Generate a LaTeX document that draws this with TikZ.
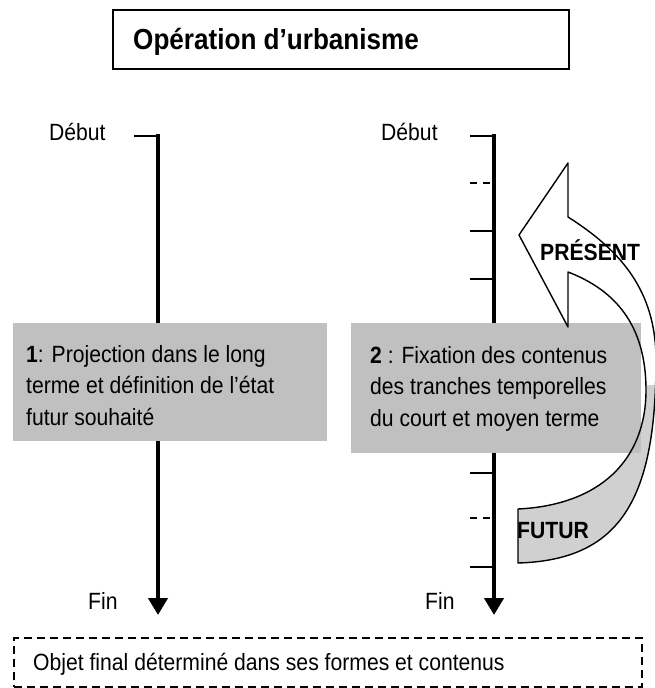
\documentclass[tikz,border=0pt]{standalone}
\usepackage{fontspec}
\setmainfont[FakeStretch=0.9]{Liberation Sans}
\usetikzlibrary{arrows.meta}
\definecolor{boxgray}{HTML}{C0C0C0}
\definecolor{tailgray}{HTML}{D0D0D0}
\begin{document}
\begin{tikzpicture}[x=1pt,y=-1pt,
  txt/.style={font=\fontsize{23.5}{31.5}\selectfont, inner sep=0pt},
  boldtxt/.style={font=\bfseries\fontsize{23.5}{31.5}\selectfont, inner sep=0pt},
  graybox/.style={fill=boxgray, draw=none, inner sep=0pt, anchor=north west},
  timeline/.style={line width=4.8pt, -{Triangle[length=17pt,width=19pt]}},
  tickline/.style={line width=1.6pt},
  dashtick/.style={line width=1.6pt, dash pattern=on 7pt off 6pt},
  outline/.style={draw=black, line width=1.4pt, line join=round}]
\useasboundingbox (0,0) rectangle (655,688);

% title
\node[draw, line width=1.8pt, minimum width=456pt, minimum height=59pt, anchor=north west, inner sep=0pt] (titlebox) at (112,9) {};
\node[anchor=base west, font=\bfseries\fontsize{29}{34}\selectfont, inner sep=0pt] (title) at (133,49) {Opération d’urbanisme};

% left time line
\coordinate (Ltick) at (134,136);
\coordinate (Ltop) at (158,134);
\coordinate (Lend) at (158,615);
\draw[tickline] (Ltick) -- (160,136);
\draw[timeline] (Ltop) -- (Lend);
\node[txt, anchor=base west] (Ldebut) at (49,140) {Début};
\node[txt, anchor=base west] (Lfin) at (88,609) {Fin};

% right time line
\coordinate (Rtick) at (470,136);
\coordinate (Rtop) at (494,134);
\coordinate (Rend) at (494,615);
\draw[tickline] (Rtick) -- (496,136);
\draw[timeline] (Rtop) -- (Rend);
\foreach \yy in {231,279,473,567} \draw[tickline] (470,\yy) -- (494,\yy);
\foreach \yy in {183,518} \draw[dashtick] (470,\yy) -- (494,\yy);
\node[txt, anchor=base west] (Rdebut) at (381,140) {Début};
\node[txt, anchor=base west] (Rfin) at (425,609) {Fin};

% curved arrow fill
\fill[white] (519,235) -- (568,163) -- (568,217) .. controls (620,250) and (656,290) .. (656,360) .. controls (656,500) and (620,560) .. (518,563) -- (518,509) .. controls (600,505) and (646,460) .. (646,390) .. controls (646,325) and (615,290) .. (568,272) -- (568,327) -- cycle;
\begin{scope}
\clip (500,385) rectangle (660,600);
\fill[tailgray] (519,235) -- (568,163) -- (568,217) .. controls (620,250) and (656,290) .. (656,360) .. controls (656,500) and (620,560) .. (518,563) -- (518,509) .. controls (600,505) and (646,460) .. (646,390) .. controls (646,325) and (615,290) .. (568,272) -- (568,327) -- cycle;
\end{scope}

% gray boxes
\node[graybox, minimum width=314pt, minimum height=118pt] (box1) at (13,323) {};
\node[graybox, minimum width=290pt, minimum height=130pt] (box2) at (351,323) {};

% curved arrow outline
\draw[outline] (519,235) -- (568,163) -- (568,217) .. controls (620,250) and (656,290) .. (656,360) .. controls (656,500) and (620,560) .. (518,563) -- (518,509) .. controls (600,505) and (646,460) .. (646,390) .. controls (646,325) and (615,290) .. (568,272) -- (568,327) -- cycle;

% box texts
\node[txt, anchor=north west, align=left] (t1) at (26,345) {\textbf{1}: Projection dans le long\\terme et définition de l’état\\futur souhaité};
\node[txt, anchor=north west, align=left] (t2) at (370,346) {\textbf{2} : Fixation des contenus\\des tranches temporelles\\du court et moyen terme};

% arrow labels
\node[boldtxt, anchor=base west] (present) at (540,260) {PRÉSENT};
\node[boldtxt, anchor=base west] (futur) at (517,538) {FUTUR};

% final dashed box
\node[draw, line width=1.5pt, dash pattern=on 8pt off 5pt, minimum width=628pt, minimum height=49pt, anchor=north west, inner sep=0pt] (final) at (13,637) {};
\node[txt, anchor=base west] (finaltxt) at (33,670) {Objet final déterminé dans ses formes et contenus};
\end{tikzpicture}
\end{document}
